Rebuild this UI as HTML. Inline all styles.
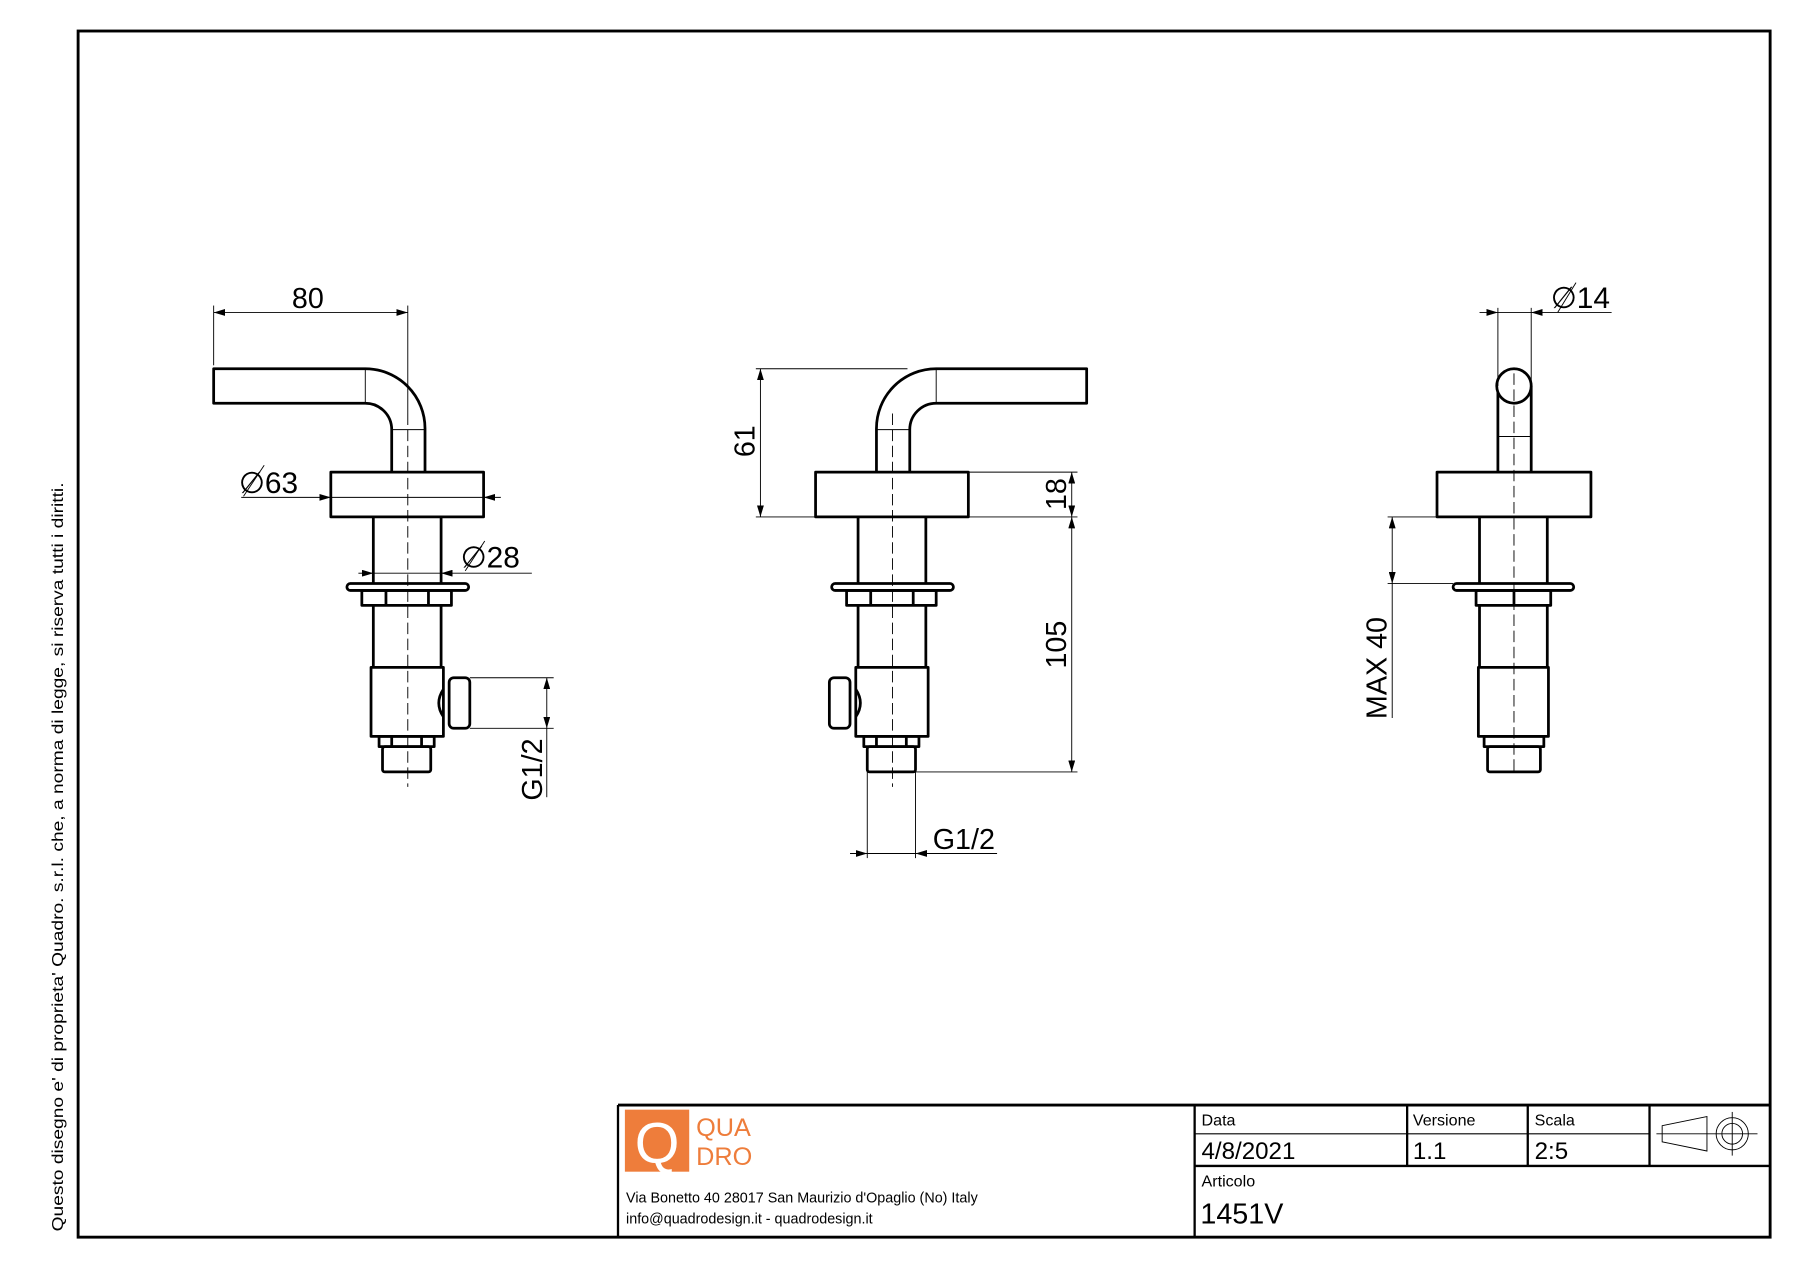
<!DOCTYPE html>
<html><head><meta charset="utf-8"><style>
html,body{margin:0;padding:0;background:#fff}
svg{display:block}
text{font-family:"Liberation Sans",sans-serif;fill:#000}
</style></head><body>
<svg width="1800" height="1273" viewBox="0 0 1567 1108.2" preserveAspectRatio="none" xmlns="http://www.w3.org/2000/svg">
<defs>
<marker id="a" viewBox="0 0 10 6" refX="10" refY="3" markerWidth="10" markerHeight="6" orient="auto-start-reverse" markerUnits="userSpaceOnUse"><path d="M0,0L10,3L0,6z" fill="#000"/></marker>
</defs>
<rect x="68" y="27" width="1473" height="1050" fill="none" stroke="#000" stroke-width="2.5"/>
<text transform="translate(55,1072) rotate(-90)" font-size="14" textLength="652" lengthAdjust="spacingAndGlyphs">Questo disegno e' di proprieta' Quadro. s.r.l. che, a norma di legge, si riserva tutti i diritti.</text>

<!-- title block -->
<g stroke="#000" fill="none">
<line x1="538" y1="962" x2="1541" y2="962" stroke-width="2.5"/>
<line x1="538" y1="962" x2="538" y2="1077" stroke-width="2"/>
<line x1="1040" y1="962" x2="1040" y2="1077" stroke-width="2"/>
<line x1="1040" y1="987" x2="1436" y2="987" stroke-width="1"/>
<line x1="1040" y1="1015" x2="1541" y2="1015" stroke-width="2"/>
<line x1="1225" y1="962" x2="1225" y2="1015" stroke-width="2"/>
<line x1="1330" y1="962" x2="1330" y2="1015" stroke-width="2"/>
<line x1="1436" y1="962" x2="1436" y2="1015" stroke-width="2"/>
<g stroke-width="0.8"><path d="M1447,980 L1486,972 L1486,1002 L1447,994 Z"/><circle cx="1508" cy="987" r="14"/><circle cx="1508" cy="987" r="9"/><line x1="1442" y1="987" x2="1530" y2="987"/><line x1="1508" y1="968" x2="1508" y2="1006"/></g>
</g>
<rect x="544" y="966" width="56" height="54" fill="#ee7d3b"/>
<text x="572" y="1012" font-size="50" text-anchor="middle" style="fill:#fff">Q</text>
<text x="606" y="989" font-size="22" style="fill:#ee7d3b">QUA</text>
<text x="606" y="1014" font-size="22" style="fill:#ee7d3b">DRO</text>
<text x="545" y="1047" font-size="12.5">Via Bonetto 40  28017 San Maurizio d'Opaglio (No) Italy</text>
<text x="545" y="1065" font-size="12.5">info@quadrodesign.it  -  quadrodesign.it</text>
<text x="1046" y="980" font-size="14">Data</text>
<text x="1230" y="980" font-size="14">Versione</text>
<text x="1336" y="980" font-size="14">Scala</text>
<text x="1046" y="1009" font-size="21">4/8/2021</text>
<text x="1230" y="1009" font-size="21">1.1</text>
<text x="1336" y="1009" font-size="21">2:5</text>
<text x="1046" y="1033" font-size="14">Articolo</text>
<text x="1045" y="1065" font-size="25">1451V</text>

<!-- LEFT VIEW -->
<g stroke="#000" fill="none" stroke-width="2.4" stroke-linejoin="round">
<path d="M318,321 L186,321 L186,351 L318,351 A23,23 0 0 1 341,374 L341,411 M318,321 A52,52 0 0 1 370,373 L370,411"/>
<rect x="288" y="411" width="133" height="39"/>
<path d="M325,450 V508 M384,450 V508"/>
<rect x="302" y="508" width="106" height="6" rx="3"/>
<rect x="315" y="514" width="78" height="13"/><path d="M336,514V527M373,514V527"/>
<path d="M325,527 V581 M384,527 V581"/>
<rect x="323" y="581" width="63" height="60"/>
<path d="M386,600 Q378,612 386,624"/>
<rect x="391" y="590" width="18" height="44" rx="4"/>
<rect x="330" y="641" width="48" height="9"/><path d="M341,641v9M367,641v9"/>
<rect x="333" y="650" width="42" height="22" rx="2"/>
</g>
<g stroke="#000" fill="none" stroke-width="0.8">
<line x1="355" y1="360" x2="355" y2="685" stroke-dasharray="10,4"/>
<line x1="341" y1="374" x2="370" y2="374"/><line x1="318" y1="321" x2="318" y2="351"/>
<line x1="186" y1="266" x2="186" y2="318"/><line x1="355" y1="266" x2="355" y2="360"/>
<line x1="186" y1="272" x2="355" y2="272" marker-start="url(#a)" marker-end="url(#a)"/>
<line x1="210" y1="433" x2="288" y2="433" marker-end="url(#a)"/><line x1="288" y1="433" x2="421" y2="433"/><line x1="436" y1="433" x2="421" y2="433" marker-end="url(#a)"/>
<line x1="312" y1="499" x2="325" y2="499" marker-end="url(#a)"/><line x1="325" y1="499" x2="384" y2="499"/><line x1="463" y1="499" x2="384" y2="499" marker-end="url(#a)"/>
<line x1="409" y1="590" x2="482" y2="590"/><line x1="409" y1="634" x2="482" y2="634"/>
<line x1="476" y1="590" x2="476" y2="634" marker-start="url(#a)" marker-end="url(#a)"/><line x1="476" y1="634" x2="476" y2="694"/>
<line x1="212" y1="432" x2="230" y2="405"/><line x1="405" y1="497" x2="422" y2="471"/>
</g>
<text x="268" y="268" font-size="25" text-anchor="middle">80</text>
<text x="208" y="429" font-size="26">∅63</text>
<text x="401" y="494" font-size="26">∅28</text>
<text transform="translate(472,697) rotate(-90)" font-size="25">G1/2</text>

<!-- MIDDLE VIEW -->
<g stroke="#000" fill="none" stroke-width="2.4" stroke-linejoin="round">
<path d="M815,321 L946,321 L946,351 L815,351 A23,23 0 0 0 792,374 L792,411 M815,321 A52,52 0 0 0 763,373 L763,411"/>
<rect x="710" y="411" width="133" height="39"/>
<path d="M747,450 V508 M806,450 V508"/>
<rect x="724" y="508" width="106" height="6" rx="3"/>
<rect x="737" y="514" width="78" height="13"/><path d="M758,514V527M795,514V527"/>
<path d="M747,527 V581 M806,527 V581"/>
<rect x="745" y="581" width="63" height="60"/>
<path d="M745,600 Q753,612 745,624"/>
<rect x="722" y="590" width="18" height="44" rx="4"/>
<rect x="752" y="641" width="48" height="9"/><path d="M763,641v9M789,641v9"/>
<rect x="755" y="650" width="42" height="22" rx="2"/>
</g>
<g stroke="#000" fill="none" stroke-width="0.8">
<line x1="777" y1="360" x2="777" y2="685" stroke-dasharray="10,4"/>
<line x1="763" y1="374" x2="792" y2="374"/><line x1="815" y1="321" x2="815" y2="351"/>
<line x1="658" y1="321" x2="790" y2="321"/><line x1="658" y1="450" x2="710" y2="450"/>
<line x1="662" y1="321" x2="662" y2="450" marker-start="url(#a)" marker-end="url(#a)"/>
<line x1="843" y1="411" x2="938" y2="411"/><line x1="843" y1="450" x2="938" y2="450"/>
<line x1="933" y1="411" x2="933" y2="450" marker-start="url(#a)" marker-end="url(#a)"/>
<line x1="933" y1="450" x2="933" y2="672" marker-start="url(#a)" marker-end="url(#a)"/>
<line x1="797" y1="672" x2="938" y2="672"/>
<line x1="755" y1="672" x2="755" y2="747"/><line x1="797" y1="672" x2="797" y2="747"/>
<line x1="740" y1="743" x2="755" y2="743" marker-end="url(#a)"/><line x1="755" y1="743" x2="797" y2="743"/><line x1="868" y1="743" x2="797" y2="743" marker-end="url(#a)"/>
</g>
<text transform="translate(657,398) rotate(-90)" font-size="25">61</text>
<text transform="translate(928,444) rotate(-90)" font-size="25">18</text>
<text transform="translate(928,582) rotate(-90)" font-size="25">105</text>
<text x="812" y="739" font-size="25">G1/2</text>

<!-- RIGHT VIEW -->
<g stroke="#000" fill="none" stroke-width="2.4" stroke-linejoin="round">
<path d="M1304,336 V411 M1333,336 V411"/>
<circle cx="1318" cy="336" r="15" fill="#fff"/>
<rect x="1251" y="411" width="134" height="39"/>
<path d="M1288,450 V508 M1347,450 V508"/>
<rect x="1265" y="508" width="105" height="6" rx="3"/>
<rect x="1285" y="514" width="65" height="13"/><path d="M1318,514V527"/>
<path d="M1288,527 V581 M1347,527 V581"/>
<rect x="1287" y="581" width="61" height="60"/>
<rect x="1292" y="641" width="52" height="9"/>
<rect x="1295" y="650" width="46" height="22" rx="2"/>
</g>
<g stroke="#000" fill="none" stroke-width="0.8">
<line x1="1318" y1="325" x2="1318" y2="672" stroke-dasharray="10,4"/>
<line x1="1304" y1="380" x2="1333" y2="380"/>
<line x1="1304" y1="268" x2="1304" y2="336"/><line x1="1333" y1="268" x2="1333" y2="336"/>
<line x1="1288" y1="272" x2="1304" y2="272" marker-end="url(#a)"/><line x1="1304" y1="272" x2="1333" y2="272"/><line x1="1403" y1="272" x2="1333" y2="272" marker-end="url(#a)"/>
<line x1="1356" y1="272" x2="1372" y2="246"/>
<line x1="1208" y1="450" x2="1251" y2="450"/><line x1="1208" y1="508" x2="1265" y2="508"/>
<line x1="1212" y1="450" x2="1212" y2="508" marker-start="url(#a)" marker-end="url(#a)"/><line x1="1212" y1="508" x2="1212" y2="625"/>
</g>
<text x="1350" y="268" font-size="26">∅14</text>
<text transform="translate(1207,626) rotate(-90)" font-size="25">MAX  40</text>
</svg>
</body></html>
